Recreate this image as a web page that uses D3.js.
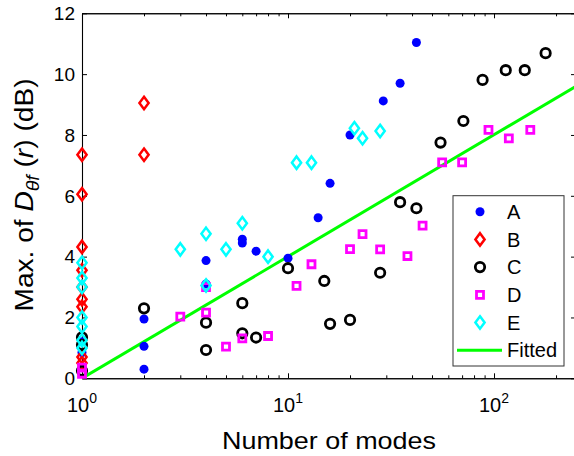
<!DOCTYPE html>
<html>
<head>
<meta charset="utf-8">
<script src="https://cdnjs.cloudflare.com/ajax/libs/d3/7.8.5/d3.min.js"></script>
<style>
	body { margin: 0; background: #fff; }
	svg { display: block; font-family: "Liberation Sans", Arial, sans-serif; }
</style>
</head>
<body>
<div class="chart"></div>
<script>
// Data (x = number of modes, y = max. of D in dB)
var modesA = [1, 1, 2, 2, 2, 4, 4, 6, 6, 7, 10, 14, 16, 20, 29, 35, 42];
var valsA  = [0.85, 1.2, 0.3, 1.05, 1.95, 3.1, 3.87, 4.45, 4.57, 4.18, 3.95, 5.28, 6.41, 8.0, 9.12, 9.7, 11.04];

var modesB = [1, 1, 1, 1, 1, 1, 1, 1, 1, 2, 2];
var valsB  = [7.35, 6.05, 4.32, 3.55, 3.0, 2.6, 2.35, 0.7, 0.5, 9.05, 7.35];

var modesC = [1, 1, 1, 2, 4, 4, 6, 6, 7, 10, 15, 16, 20, 28, 35, 42, 55, 71, 88, 114, 141, 178];
var valsC  = [1.35, 1.1, 0.25, 2.3, 1.83, 0.93, 2.47, 1.48, 1.34, 3.62, 3.2, 1.79, 1.92, 3.47, 5.79, 5.59, 7.75, 8.46, 9.81, 10.13, 10.13, 10.69];

var modesD = [1, 1, 3, 4, 4, 5, 6, 8, 11, 13, 20, 23, 28, 38, 45, 56, 70, 94, 118, 150];
var valsD  = [0.35, 0.15, 2.03, 2.16, 3.0, 1.04, 1.31, 1.39, 3.04, 3.75, 4.25, 4.74, 4.24, 4.02, 5.02, 7.1, 7.1, 8.17, 7.89, 8.17];

var modesE = [1, 1, 1, 1, 1, 1, 1, 3, 4, 4, 5, 6, 8, 11, 13, 21, 23, 28];
var valsE  = [3.8, 3.3, 3.0, 2.0, 1.7, 1.25, 1.0, 4.24, 4.75, 3.05, 4.24, 5.1, 4.0, 7.09, 7.09, 8.22, 7.89, 8.13];

var fitModes = [1, 250];
var fitVals  = [0, 9.6];

var seriesNames = ["A", "B", "C", "D", "E"];
var xMajorTicks = [1, 10, 100];
var xTickExponents = ["0", "1", "2"];
var xMinorTicks = [2, 3, 4, 5, 6, 7, 8, 9, 20, 30, 40, 50, 60, 70, 80, 90, 200];
var yTicks = [0, 2, 4, 6, 8, 10, 12];

(function (){

	var margin = { top: 13.3, left: 82 };
	var width = 494, height = 365;

	var xScale = d3.scaleLog().domain([1, 250]).range([0, width]);
	var yScale = d3.scaleLinear().domain([0, 12]).range([height, 0]);

	var svg = d3.select(".chart")
		.append("svg")
		.attr("width", 574)
		.attr("height", 456);

	var plot = svg.append("g")
		.attr("transform", "translate(" + margin.left + "," + margin.top + ")");

	// Box with inward ticks on all four sides
	function styleAxis(g) {
		g.select(".domain").attr("stroke", "#000").attr("stroke-width", 1.1);
		g.selectAll(".tick line").attr("stroke", "#000").attr("stroke-width", 1);
		g.selectAll(".tick text").remove();
	}

	plot.append("g").attr("transform", "translate(0," + height + ")")
		.call(d3.axisBottom(xScale).tickValues(xMajorTicks).tickSizeInner(-5).tickSizeOuter(0)).call(styleAxis);
	plot.append("g").attr("transform", "translate(0," + height + ")")
		.call(d3.axisBottom(xScale).tickValues(xMinorTicks).tickSizeInner(-3).tickSizeOuter(0)).call(styleAxis);
	plot.append("g")
		.call(d3.axisTop(xScale).tickValues(xMajorTicks).tickSizeInner(-5).tickSizeOuter(0)).call(styleAxis);
	plot.append("g")
		.call(d3.axisTop(xScale).tickValues(xMinorTicks).tickSizeInner(-3).tickSizeOuter(0)).call(styleAxis);
	plot.append("g")
		.call(d3.axisLeft(yScale).tickValues(yTicks).tickSizeInner(-5).tickSizeOuter(0)).call(styleAxis);
	plot.append("g").attr("transform", "translate(" + width + ",0)")
		.call(d3.axisRight(yScale).tickValues(yTicks).tickSizeInner(-5).tickSizeOuter(0)).call(styleAxis);

	// x tick labels as 10^n
	var xLab = plot.append("g").selectAll("text")
		.data(xMajorTicks)
		.enter()
		.append("text")
		.attr("x", function(d){ return xScale(d); })
		.attr("y", height + 33.5)
		.attr("text-anchor", "middle")
		.style("font-size", "20px");
	xLab.append("tspan").text("10");
	xLab.append("tspan")
		.attr("dy", -9)
		.style("font-size", "14px")
		.text(function(d, i){ return xTickExponents[i]; });

	// y tick labels
	plot.append("g").selectAll("text")
		.data(yTicks)
		.enter()
		.append("text")
		.attr("x", -7)
		.attr("y", function(d){ return yScale(d); })
		.attr("dy", "0.36em")
		.attr("text-anchor", "end")
		.style("font-size", "19px")
		.text(function(d){ return d; });

	// Axis titles
	svg.append("text")
		.attr("x", 329)
		.attr("y", 448.5)
		.attr("text-anchor", "middle")
		.attr("textLength", 214)
		.attr("lengthAdjust", "spacingAndGlyphs")
		.style("font-size", "24px")
		.text("Number of modes");

	var yTitle = svg.append("text")
		.attr("transform", "translate(33,195) rotate(-90)")
		.attr("text-anchor", "middle")
		.attr("textLength", 233)
		.attr("lengthAdjust", "spacingAndGlyphs")
		.style("font-size", "26px");
	yTitle.append("tspan").text("Max. of ");
	yTitle.append("tspan").style("font-style", "italic").text("D");
	yTitle.append("tspan").attr("dy", 6).style("font-style", "italic").style("font-size", "18px").text("\u03b8f");
	yTitle.append("tspan").attr("dy", -6).text(" (");
	yTitle.append("tspan").style("font-style", "italic").text("r");
	yTitle.append("tspan").text(") (dB)");

	// Fitted line
	var fitData = fitModes.map(function(m, i){ return [m, fitVals[i]]; });
	var line = d3.line()
		.x(function(d){ return xScale(d[0]); })
		.y(function(d){ return yScale(d[1]); });

	var clip = svg.append("clipPath").attr("id", "clip")
		.append("rect").attr("width", width).attr("height", height);

	plot.append("path")
		.datum(fitData)
		.attr("clip-path", "url(#clip)")
		.attr("fill", "none")
		.attr("stroke", "#00ff00")
		.attr("stroke-width", 3)
		.attr("d", line);

	// Marker shapes
	var diamond = "M0,-6.2L4.6,0L0,6.2L-4.6,0Z";
	var square = "M-3.5,-3.5H3.5V3.5H-3.5Z";

	function pairs(ms, vs) { return ms.map(function(m, i){ return [m, vs[i]]; }); }

	function drawMarker(sel, name) {
		if(name == "A") {
			sel.append("circle").attr("r", 4.5).attr("fill", "#0000ff");
		} else if(name == "B") {
			sel.append("path").attr("d", diamond).attr("fill", "none").attr("stroke", "#ff0000").attr("stroke-width", 2.5);
		} else if(name == "C") {
			sel.append("circle").attr("r", 4.7).attr("fill", "none").attr("stroke", "#000").attr("stroke-width", 2.8);
		} else if(name == "D") {
			sel.append("path").attr("d", square).attr("fill", "none").attr("stroke", "#ff00ff").attr("stroke-width", 2.8);
		} else {
			sel.append("path").attr("d", diamond).attr("fill", "none").attr("stroke", "#00ffff").attr("stroke-width", 2.5);
		}
	}

	var allSeries = [pairs(modesA, valsA), pairs(modesB, valsB), pairs(modesC, valsC), pairs(modesD, valsD), pairs(modesE, valsE)];

	allSeries.forEach(function(data, i){
		plot.append("g")
			.selectAll("g")
			.data(data)
			.enter()
			.append("g")
			.attr("transform", function(d){ return "translate(" + xScale(d[0]) + "," + yScale(d[1]) + ")"; })
			.each(function(){ drawMarker(d3.select(this), seriesNames[i]); });
	});

	// Legend
	var legend = svg.append("g").attr("transform", "translate(453,195.7)");
	legend.append("rect")
		.attr("width", 111)
		.attr("height", 170.3)
		.attr("fill", "#fff")
		.attr("stroke", "#333")
		.attr("stroke-width", 1);

	var legendNames = seriesNames.concat(["Fitted"]);
	var items = legend.selectAll(".item")
		.data(legendNames)
		.enter()
		.append("g")
		.attr("class", "item")
		.attr("transform", function(d, i){ return "translate(0," + (16 + i * 27.7) + ")"; });

	items.each(function(d){
		var g = d3.select(this);
		if(d == "Fitted") {
			g.append("line").attr("x1", 4).attr("x2", 49).attr("stroke", "#00ff00").attr("stroke-width", 3);
		} else {
			drawMarker(g.append("g").attr("transform", "translate(27,0)"), d);
		}
	});

	items.append("text")
		.attr("x", 54)
		.attr("dy", "0.36em")
		.style("font-size", "20px")
		.text(function(d){ return d; });

})();
</script>
</body>
</html>
